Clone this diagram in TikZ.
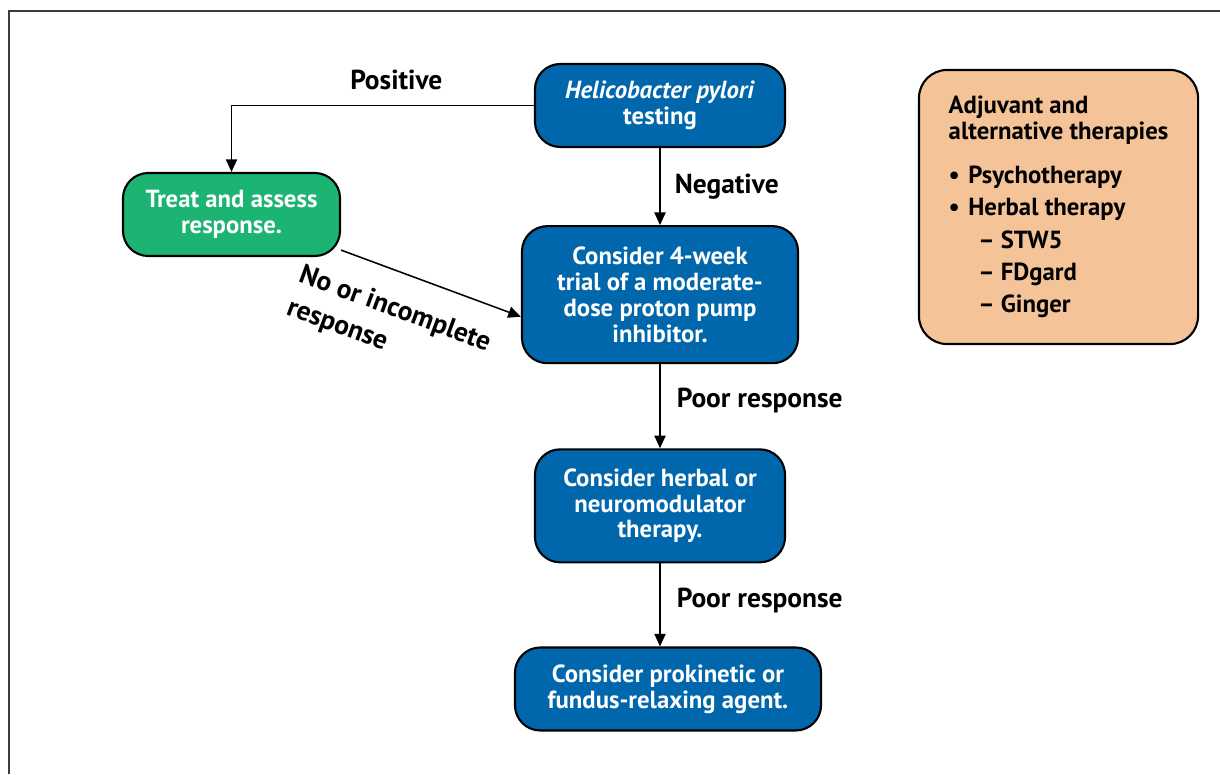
\documentclass[tikz,border=0pt]{standalone}
\usepackage{fontspec}
\setmainfont{PT Sans}
\usetikzlibrary{arrows.meta,positioning}
\definecolor{fdBlue}{RGB}{0,103,172}
\definecolor{fdGreen}{RGB}{27,180,115}
\definecolor{fdPeach}{RGB}{245,195,152}
\definecolor{fdFrame}{RGB}{60,60,60}

\begin{document}
\begin{tikzpicture}[
    x=0.025cm, y=-0.025cm,
    font=\bfseries\fontsize{17.6}{18.4}\selectfont,
    box/.style={draw,line width=1.5pt,rounded corners=18pt,align=center,text=white,fill=fdBlue,inner sep=3pt},
    lbl/.style={inner sep=0pt,text=black,font=\bfseries\fontsize{19.5}{20}\selectfont},
    arrow/.style={-{Triangle[length=9pt,width=8pt]},line width=1.1pt}
  ]
    \useasboundingbox (0,0) rectangle (1220,774);
    \draw[fdFrame,line width=0.8pt] (9,774) -- (9,11) -- (1220,11);
    % flow column
    \node[box,minimum width=6.25cm,minimum height=2.075cm] (hp) at (660,105.5) {\textit{Helicobacter pylori}\\testing};
    \node[box,minimum width=6.9cm,minimum height=3.425cm,below=1.925cm of hp] (ppi) {Consider 4-week\\trial of a moderate-\\dose proton pump\\inhibitor.};
    \node[box,minimum width=6.25cm,minimum height=2.825cm,below=2.1cm of ppi] (herb) {Consider herbal or\\neuromodulator\\therapy.};
    \node[box,minimum width=7.65cm,minimum height=2.075cm,below=2.075cm of herb,xshift=0.2cm] (prok) {Consider prokinetic or\\fundus-relaxing agent.};
    % side boxes
    \node[box,fill=fdGreen,minimum width=5.425cm,minimum height=2.075cm] (treat) at (231.5,214.5) {Treat and assess\\response.};
    \node[box,fill=fdPeach,text=black,align=left,rounded corners=0.7cm,minimum width=6.975cm,minimum height=6.85cm] (adj) at (1058.5,207)
      {Adjuvant and\\alternative therapies\\[13pt]
       \textbullet\hspace{6pt}Psychotherapy\\[4.5pt]
       \textbullet\hspace{6pt}Herbal therapy\\[4.5pt]
       \hspace*{21pt}– STW5\\[4.5pt]
       \hspace*{21pt}– FDgard\\[4.5pt]
       \hspace*{21pt}– Ginger};
    \draw[arrow] (hp.west) -- node[lbl,above=0.38cm,pos=0.455] (lpos) {Positive} (hp.west -| treat.north) -- (treat.north);
    \draw[arrow] (hp.south) -- node[lbl,right=0.35cm] (lneg) {Negative} (hp.south |- ppi.north);
    \draw[arrow] (treat.-18) -- node[lbl,sloped,below=0.6cm,pos=0.37,align=left] (lno) {No or incomplete\\[5pt]response} (ppi.-171);
    \draw[arrow] (ppi.south) -- node[lbl,right=0.4cm,yshift=4pt] (lpoor) {Poor response} (ppi.south |- herb.north);
    \draw[arrow] (herb.south) -- node[lbl,right=0.4cm,yshift=3pt] (lpoor2) {Poor response} (herb.south |- prok.north);
  \end{tikzpicture}
\end{document}
